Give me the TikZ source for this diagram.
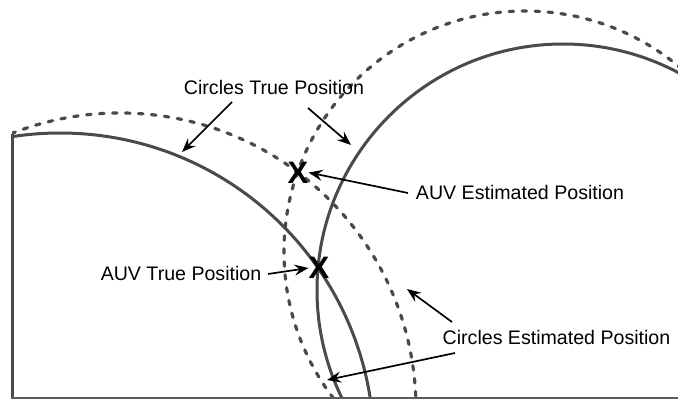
\documentclass[tikz,border=0pt]{standalone}
\usepackage{fontspec}
\setmainfont{Liberation Sans}
\usetikzlibrary{arrows.meta}
\definecolor{circgray}{HTML}{4A4A4A}
\definecolor{basegray}{HTML}{5A5A5A}
\begin{document}
\begin{tikzpicture}[x=1pt,y=-1pt,
  solidarc/.style={draw=circgray, line width=3pt},
  dasharc/.style={draw=circgray, line width=3.2pt, dash pattern=on 4.5pt off 8.5pt, line cap=round},
  pointer/.style={draw=black, line width=1.7pt, -{Stealth[length=14pt,width=11pt,inset=5pt]}},
  lbl/.style={inner sep=0pt, font=\fontsize{19.6}{23}\selectfont},
  xmark/.style={inner sep=0pt, font=\fontsize{31}{35}\selectfont\bfseries}]
\useasboundingbox (0,0) rectangle (678,401);
% circles
\begin{scope}
  \clip (12,0) rectangle (678,398);
  \draw[solidarc] (60,447) circle[radius=314pt];
  \draw[dasharc] (120,409) circle[radius=296pt];
  \draw[solidarc] (563,290) circle[radius=246pt];
  \draw[dasharc] (525,252) circle[radius=241pt];
\end{scope}
% frame
\draw[draw=circgray, line width=3pt] (12,134) -- (12,398);
\draw[draw=basegray, line width=2pt] (11,398) -- (678,398);
% labels
\node[lbl] (ctp) at (274,87.5) {Circles True Position};
\node[lbl] (atp) at (181,273) {AUV True Position};
\node[lbl] (aep) at (520,192) {AUV Estimated Position};
\node[lbl] (cep) at (556.5,337) {Circles Estimated Position};
% X marks
\node[xmark] (xe) at (298,172.5) {X};
\node[xmark] (xt) at (319,268) {X};
% arrow ends
\coordinate (ctpa) at (232,102);
\coordinate (ctpah) at (182,152);
\coordinate (ctpb) at (308,108);
\coordinate (ctpbh) at (351,145);
\coordinate (aept) at (408,193);
\coordinate (atpt) at (268,274);
\coordinate (cepa) at (452,322);
\coordinate (cepah) at (407,289);
\coordinate (cepb) at (455,353);
\coordinate (cepbh) at (327,380);
% arrows
\draw[pointer] (ctpa) -- (ctpah);
\draw[pointer] (ctpb) -- (ctpbh);
\draw[pointer] (aept) -- (xe.east);
\draw[pointer] (atpt) -- (xt.west);
\draw[pointer] (cepa) -- (cepah);
\draw[pointer] (cepb) -- (cepbh);
\end{tikzpicture}
\end{document}
